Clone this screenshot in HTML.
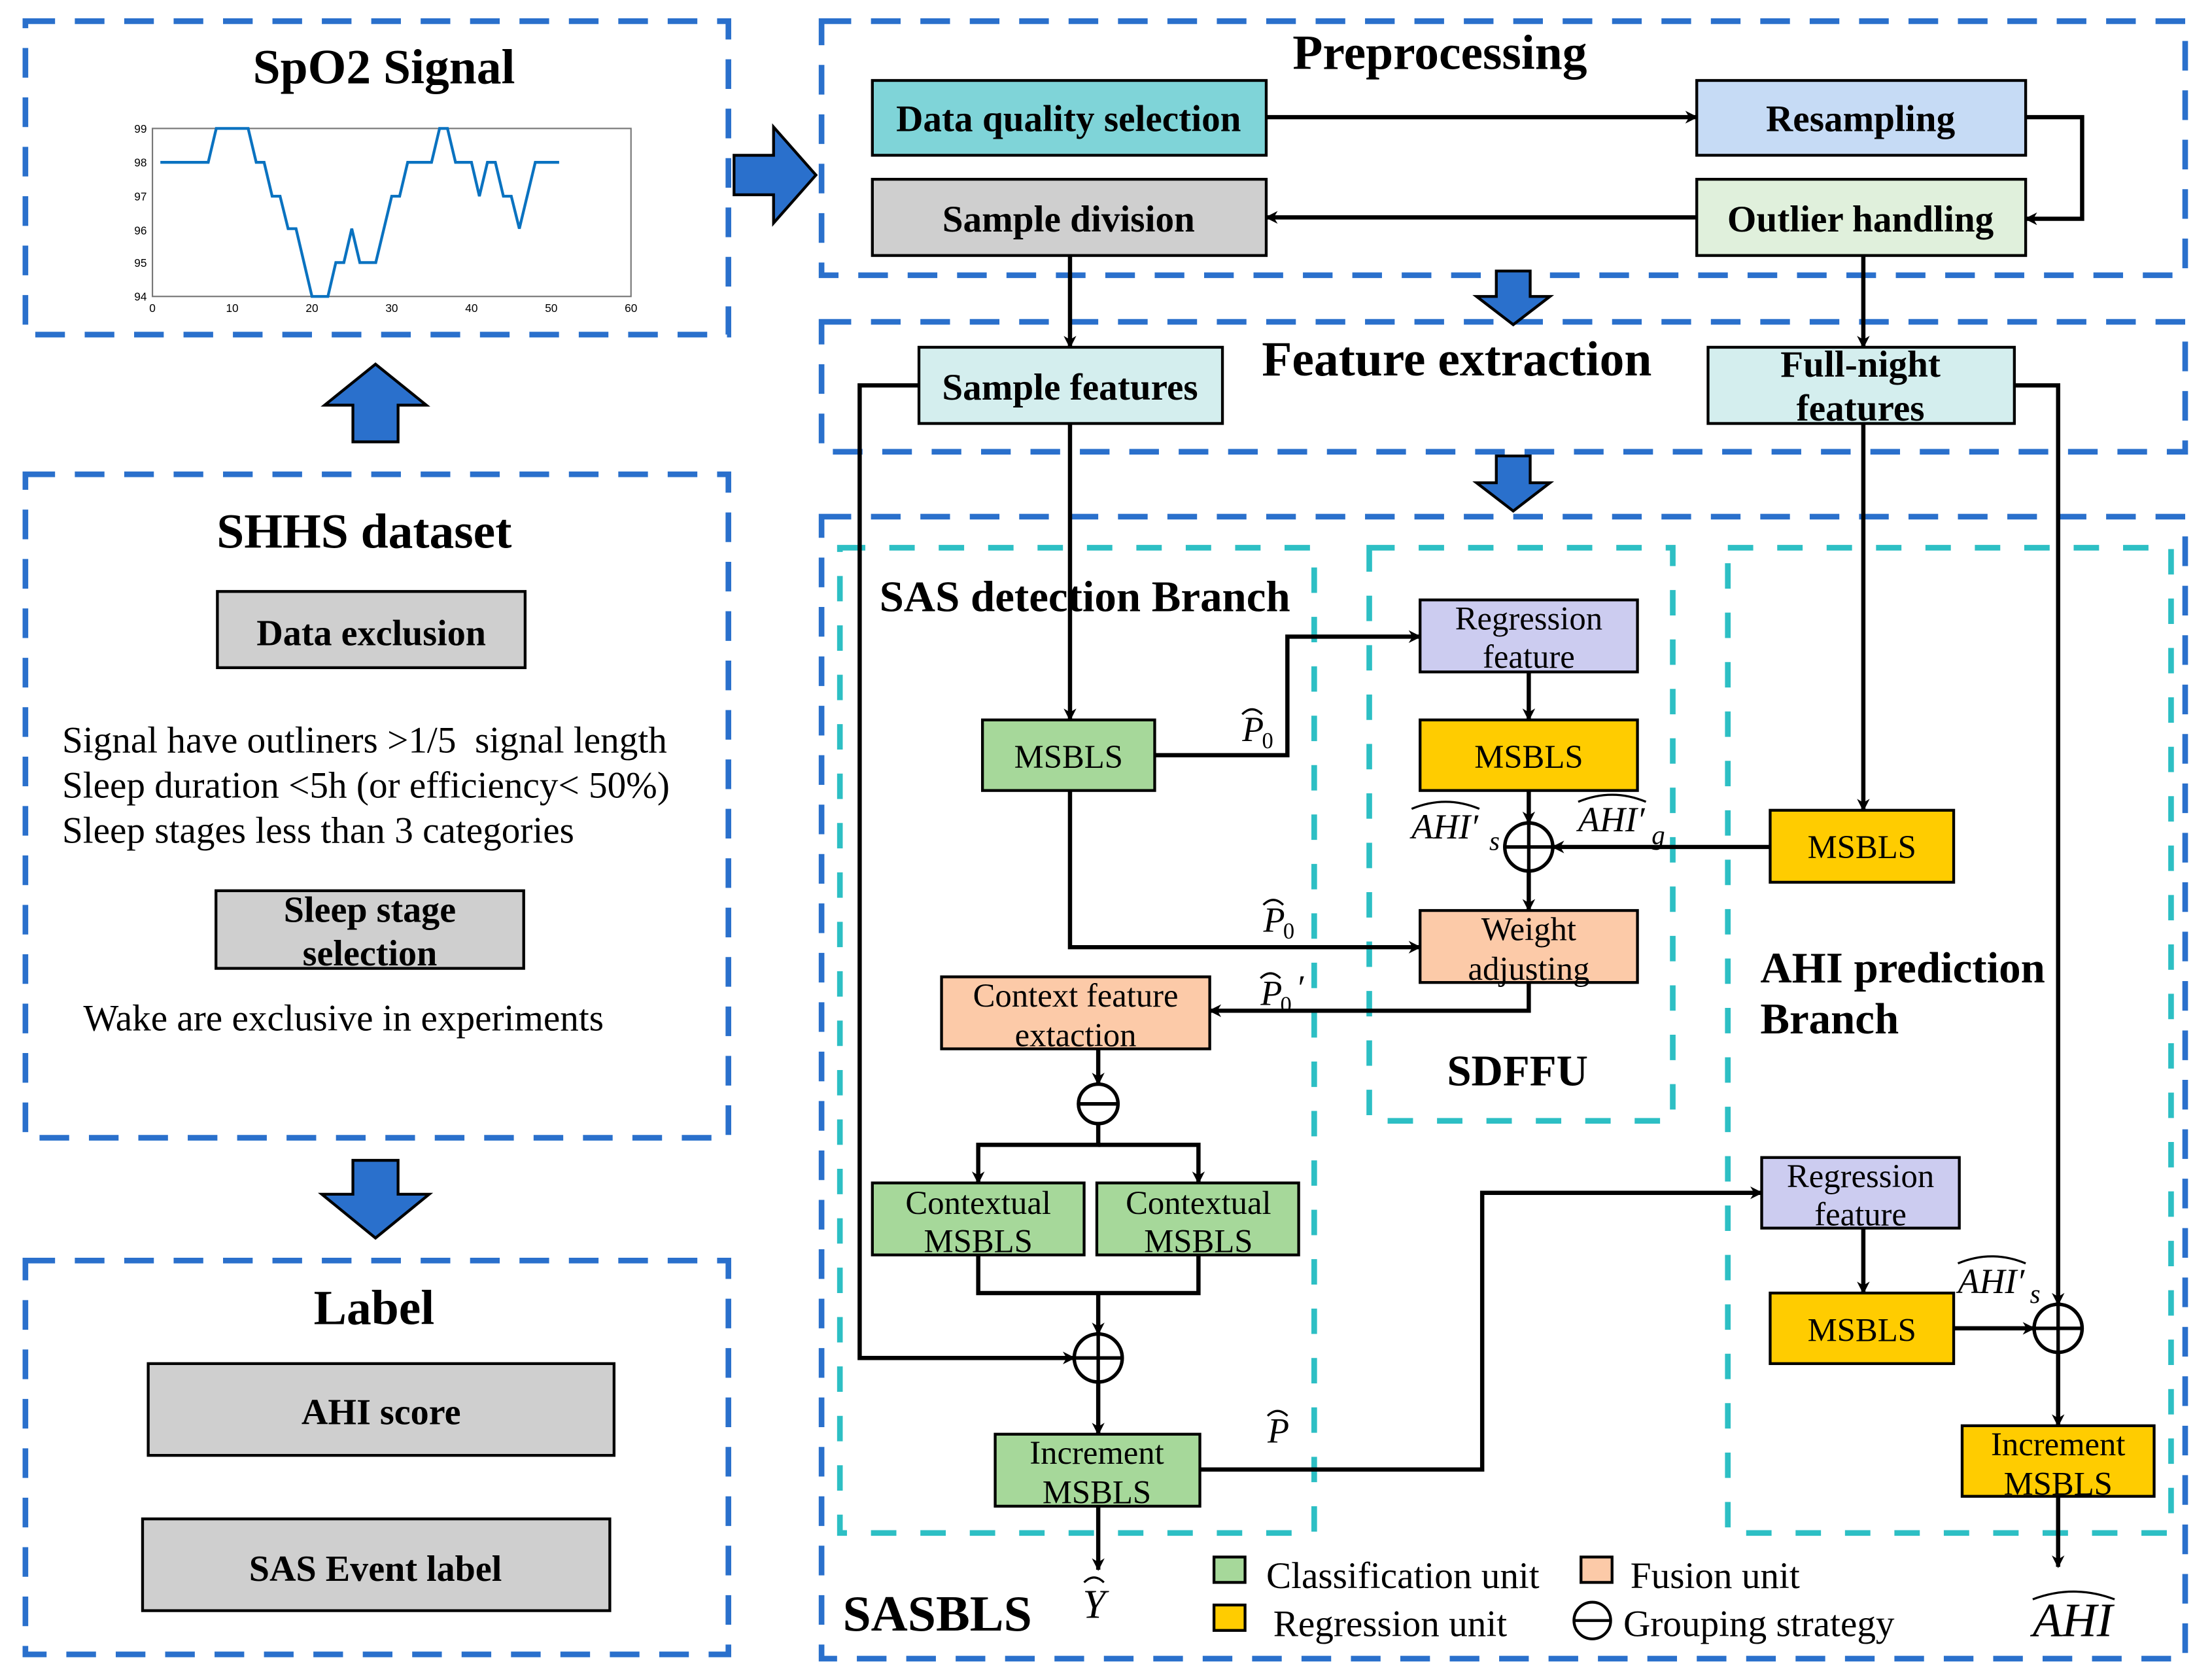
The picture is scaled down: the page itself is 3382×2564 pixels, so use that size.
<!DOCTYPE html>
<html><head><meta charset="utf-8"><style>
html,body{margin:0;padding:0;background:#fff;}
svg{display:block;}
text{font-family:"Liberation Serif",serif;fill:#000;}
.b{font-weight:bold;}
</style></head><body>
<svg width="3382" height="2564" viewBox="0 0 1567 1188" preserveAspectRatio="none" xmlns="http://www.w3.org/2000/svg">
<defs>
<marker id="ah" viewBox="0 0 20 20" refX="18" refY="10" markerWidth="9" markerHeight="9" markerUnits="userSpaceOnUse" orient="auto">
<path d="M0,0 L20,10 L0,20 L6,10 Z" fill="#000"/>
</marker>
</defs>
<g fill="none" stroke="#2a70cc" stroke-width="4" stroke-dasharray="21 14">
<rect x="18" y="15" width="498" height="222"/>
<rect x="18" y="336" width="498" height="470"/>
<rect x="18" y="893" width="498" height="279"/>
<rect x="582" y="15" width="966" height="180"/>
<rect x="582" y="228" width="966" height="92"/>
<rect x="582" y="366" width="966" height="809"/>
</g>
<g fill="none" stroke="#2dbfc4" stroke-width="4" stroke-dasharray="18 17">
<rect x="595" y="388" width="336" height="698"/>
<rect x="970" y="388" width="215" height="406"/>
<rect x="1224" y="388" width="314" height="698"/>
</g>
<g fill="#2a70cc" stroke="#000" stroke-width="2">
<path d="M520,110 L548,110 L548,90 L578,124 L548,158 L548,138 L520,138 Z"/>
<path d="M250,313 L250,287 L230,287 L266,258 L302,287 L282,287 L282,313 Z"/>
<path d="M250,822 L282,822 L282,846 L304,846 L266,877 L228,846 L250,846 Z"/>
<path d="M1060,192 L1084,192 L1084,210 L1098,210 L1072,230 L1046,210 L1060,210 Z"/>
<path d="M1060,323 L1084,323 L1084,342 L1098,342 L1072,362 L1046,342 L1060,342 Z"/>
</g>
<text x="272" y="59" font-size="35" class="b" text-anchor="middle">SpO2 Signal</text>
<rect x="108" y="91" width="339" height="119" fill="none" stroke="#777" stroke-width="1"/>
<g font-size="8" fill="#333">
<text x="104" y="94" text-anchor="end" style="font-family:'Liberation Sans'">99</text>
<text x="104" y="118" text-anchor="end" style="font-family:'Liberation Sans'">98</text>
<text x="104" y="142" text-anchor="end" style="font-family:'Liberation Sans'">97</text>
<text x="104" y="166" text-anchor="end" style="font-family:'Liberation Sans'">96</text>
<text x="104" y="189" text-anchor="end" style="font-family:'Liberation Sans'">95</text>
<text x="104" y="213" text-anchor="end" style="font-family:'Liberation Sans'">94</text>
<text x="108" y="221" text-anchor="middle" style="font-family:'Liberation Sans'">0</text>
<text x="164.5" y="221" text-anchor="middle" style="font-family:'Liberation Sans'">10</text>
<text x="221" y="221" text-anchor="middle" style="font-family:'Liberation Sans'">20</text>
<text x="277.5" y="221" text-anchor="middle" style="font-family:'Liberation Sans'">30</text>
<text x="334" y="221" text-anchor="middle" style="font-family:'Liberation Sans'">40</text>
<text x="390.5" y="221" text-anchor="middle" style="font-family:'Liberation Sans'">50</text>
<text x="447" y="221" text-anchor="middle" style="font-family:'Liberation Sans'">60</text>
</g>
<polyline fill="none" stroke="#0a72c0" stroke-width="2" points="113.6,115 147.5,115 153.2,91 175.8,91 181.5,115 187.1,115 192.8,139 198.4,139 204.1,162 209.7,162 221,210 232.3,210 237.9,186 243.6,186 249.2,162 254.9,186 266.2,186 277.5,139 283.1,139 288.8,115 305.7,115 311.4,91 317,91 322.7,115 334,115 339.6,139 345.3,115 350.9,115 356.6,139 362.2,139 367.9,162 379.2,115 396.1,115"/>
<text x="258" y="388" font-size="35" class="b" text-anchor="middle">SHHS dataset</text>
<g stroke="#000" stroke-width="2">
<rect x="154" y="419" width="218" height="54" fill="#cfcfcf"/>
<rect x="153" y="631" width="218" height="55" fill="#cfcfcf"/>
<rect x="105" y="966" width="330" height="65" fill="#cfcfcf"/>
<rect x="101" y="1076" width="331" height="65" fill="#cfcfcf"/>
</g>
<text x="263" y="457" font-size="26" class="b" text-anchor="middle">Data exclusion</text>
<g font-size="26.5">
<text x="44" y="533">Signal have outliners &gt;1/5&#160; signal length</text>
<text x="44" y="565">Sleep duration &lt;5h (or efficiency&lt; 50%)</text>
<text x="44" y="597">Sleep stages less than 3 categories</text>
<text x="59" y="730">Wake are exclusive in experiments</text>
</g>
<text x="262" y="653" font-size="26" class="b" text-anchor="middle">Sleep stage</text>
<text x="262" y="684" font-size="26" class="b" text-anchor="middle">selection</text>
<text x="265" y="938" font-size="35" class="b" text-anchor="middle">Label</text>
<text x="270" y="1009" font-size="26" class="b" text-anchor="middle">AHI score</text>
<text x="266" y="1120" font-size="26" class="b" text-anchor="middle">SAS Event label</text>
<text x="1020" y="49" font-size="35" class="b" text-anchor="middle">Preprocessing</text>
<g stroke="#000" stroke-width="2">
<rect x="618" y="57" width="279" height="53" fill="#7fd4d8"/>
<rect x="1202" y="57" width="233" height="53" fill="#c6dbf5"/>
<rect x="618" y="127" width="279" height="54" fill="#cfcfcf"/>
<rect x="1202" y="127" width="233" height="54" fill="#e0f0dc"/>
<rect x="651" y="246" width="215" height="54" fill="#d4eeee"/>
<rect x="1210" y="246" width="217" height="54" fill="#d4eeee"/>
</g>
<g font-size="26.5" class="b" text-anchor="middle">
<text x="757" y="93">Data quality selection</text>
<text x="1318" y="93">Resampling</text>
<text x="757" y="164">Sample division</text>
<text x="1318" y="164">Outlier handling</text>
<text x="758" y="283">Sample features</text>
<text x="1318" y="267">Full-night</text>
<text x="1318" y="298">features</text>
</g>
<text x="1032" y="266" font-size="35" class="b" text-anchor="middle">Feature extraction</text>
<g stroke="#000" stroke-width="2">
<rect x="1006" y="425" width="154" height="51" fill="#ccccf0"/>
<rect x="1006" y="510" width="154" height="50" fill="#ffcc00"/>
<rect x="1006" y="645" width="154" height="51" fill="#fccaa8"/>
<rect x="696" y="510" width="122" height="50" fill="#a6d89a"/>
<rect x="1254" y="574" width="130" height="51" fill="#ffcc00"/>
<rect x="667" y="692" width="190" height="51" fill="#fccaa8"/>
<rect x="618" y="838" width="150" height="51" fill="#a6d89a"/>
<rect x="777" y="838" width="143" height="51" fill="#a6d89a"/>
<rect x="705" y="1016" width="145" height="51" fill="#a6d89a"/>
<rect x="1248" y="820" width="140" height="50" fill="#ccccf0"/>
<rect x="1254" y="916" width="130" height="50" fill="#ffcc00"/>
<rect x="1390" y="1010" width="136" height="50" fill="#ffcc00"/>
<rect x="860" y="1103" width="22" height="18" fill="#a6d89a"/>
<rect x="860" y="1137" width="22" height="18" fill="#ffcc00"/>
<rect x="1120" y="1103" width="22" height="18" fill="#fccaa8"/>
</g>
<g font-size="23.5" text-anchor="middle">
<text x="1083" y="446">Regression</text>
<text x="1083" y="473">feature</text>
<text x="1083" y="544">MSBLS</text>
<text x="1083" y="666">Weight</text>
<text x="1083" y="694">adjusting</text>
<text x="757" y="544">MSBLS</text>
<text x="1319" y="608">MSBLS</text>
<text x="762" y="713">Context feature</text>
<text x="762" y="741">extaction</text>
<text x="693" y="860">Contextual</text>
<text x="693" y="887">MSBLS</text>
<text x="849" y="860">Contextual</text>
<text x="849" y="887">MSBLS</text>
<text x="777" y="1037">Increment</text>
<text x="777" y="1065">MSBLS</text>
<text x="1318" y="841">Regression</text>
<text x="1318" y="868">feature</text>
<text x="1319" y="950">MSBLS</text>
<text x="1458" y="1031">Increment</text>
<text x="1458" y="1059">MSBLS</text>
</g>
<text x="623" y="433" font-size="31" class="b">SAS detection Branch</text>
<text x="1247" y="696" font-size="31" class="b">AHI prediction</text>
<text x="1247" y="732" font-size="31" class="b">Branch</text>
<text x="1075" y="769" font-size="31" class="b" text-anchor="middle">SDFFU</text>
<text x="597" y="1155" font-size="36" class="b">SASBLS</text>
<g font-size="26.5">
<text x="897" y="1125">Classification unit</text>
<text x="902" y="1159">Regression unit</text>
<text x="1155" y="1125">Fusion unit</text>
<text x="1150" y="1159">Grouping strategy</text>
</g>
<circle cx="1128" cy="1148" r="13" fill="none" stroke="#000" stroke-width="2"/>
<line x1="1115" y1="1148" x2="1141" y2="1148" stroke="#000" stroke-width="2"/>
<g font-size="25" font-style="italic">
<text x="880" y="525">P</text><text x="894" y="530" font-size="16" font-style="normal">0</text>
<text x="895" y="660">P</text><text x="909" y="665" font-size="16" font-style="normal">0</text>
<text x="893" y="712">P</text><text x="907" y="717" font-size="16" font-style="normal">0</text><text x="918" y="708">′</text>
<text x="898" y="1022">P</text>
<text x="1000" y="594">AHI′</text><text x="1055" y="602" font-size="19">s</text>
<text x="1118" y="589">AHI′</text><text x="1170" y="598" font-size="19">g</text>
<text x="1387" y="916">AHI′</text><text x="1438" y="923" font-size="19">s</text>
<text x="767" y="1146" font-size="29">Y</text>
<text x="1440" y="1159" font-size="34">AHI</text>
</g>
<g fill="none" stroke="#000" stroke-width="1.5">
<path d="M880,506 Q887,499 894,506"/>
<path d="M895,641 Q902,634 909,641"/>
<path d="M893,693 Q900,686 907,693"/>
<path d="M898,1003 Q905,996 912,1003"/>
<path d="M1000,573 Q1024,563 1048,573"/>
<path d="M1118,568 Q1142,558 1166,568"/>
<path d="M1387,895 Q1411,885 1435,895"/>
<path d="M768,1121 Q775,1114 782,1121"/>
<path d="M1440,1133 Q1469,1122 1498,1133"/>
</g>
<g fill="#fff" stroke="#000" stroke-width="2.5">
<circle cx="1083" cy="600" r="17"/>
<circle cx="778" cy="962" r="17"/>
<circle cx="1458" cy="941" r="17"/>
<circle cx="778" cy="782" r="14"/>
</g>
<g stroke="#000" stroke-width="2.5">
<line x1="1066" y1="600" x2="1100" y2="600"/><line x1="1083" y1="583" x2="1083" y2="617"/>
<line x1="761" y1="962" x2="795" y2="962"/><line x1="778" y1="945" x2="778" y2="979"/>
<line x1="1441" y1="941" x2="1475" y2="941"/><line x1="1458" y1="924" x2="1458" y2="958"/>
<line x1="764" y1="782" x2="792" y2="782"/>
</g>
<g fill="none" stroke="#000" stroke-width="3" marker-end="url(#ah)">
<path d="M897,83 L1202,83"/>
<path d="M1435,83 L1475,83 L1475,155 L1435,155"/>
<path d="M1202,154 L897,154"/>
<path d="M758,181 L758,246"/>
<path d="M1320,181 L1320,246"/>
<path d="M651,273 L609,273 L609,962 L761,962"/>
<path d="M758,300 L758,510"/>
<path d="M818,535 L912,535 L912,451 L1006,451"/>
<path d="M758,560 L758,671 L1006,671"/>
<path d="M1083,476 L1083,510"/>
<path d="M1083,560 L1083,583"/>
<path d="M1083,617 L1083,645"/>
<path d="M1254,600 L1100,600"/>
<path d="M1083,696 L1083,716 L857,716"/>
<path d="M778,743 L778,768"/>
<path d="M778,796 L778,811 L693,811 L693,838"/>
<path d="M778,811 L849,811 L849,838"/>
<path d="M778,916 L778,945"/>
<path d="M778,979 L778,1016"/>
<path d="M778,1067 L778,1112"/>
<path d="M850,1041 L1050,1041 L1050,845 L1248,845"/>
<path d="M1320,300 L1320,574"/>
<path d="M1427,273 L1458,273 L1458,924"/>
<path d="M1320,870 L1320,916"/>
<path d="M1384,941 L1441,941"/>
<path d="M1458,958 L1458,1010"/>
<path d="M1458,1060 L1458,1110"/>
</g>
<path d="M693,889 L693,916 L849,916 L849,889" fill="none" stroke="#000" stroke-width="3"/>
</svg>
</body></html>
